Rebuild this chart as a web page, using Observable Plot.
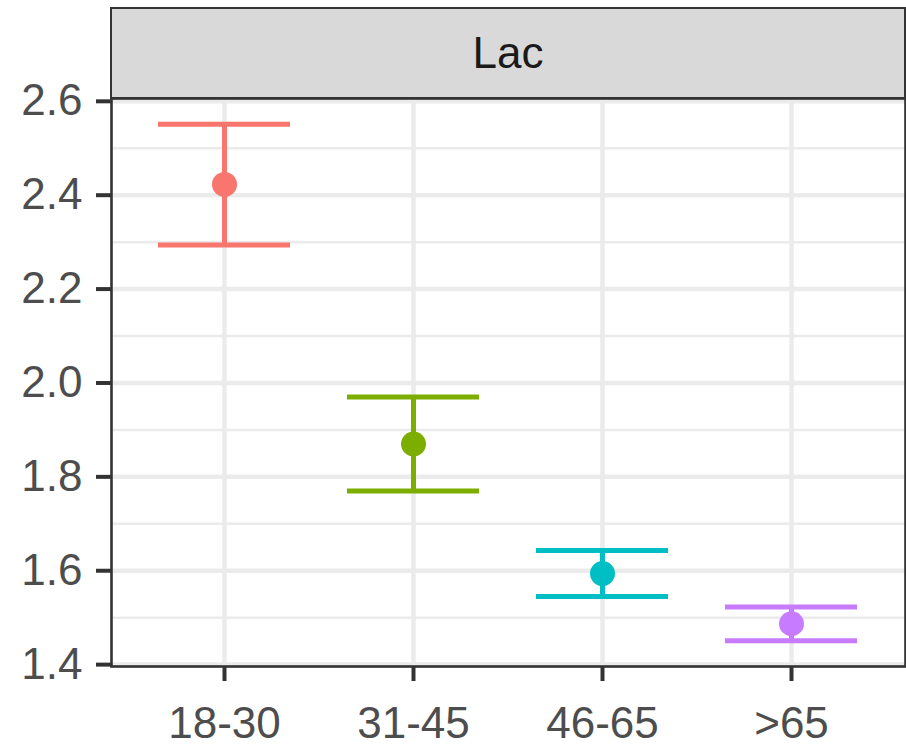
<!DOCTYPE html>
<html>
<head>
<meta charset="utf-8">
<script src="https://cdn.jsdelivr.net/npm/d3@7"></script>
<script src="https://cdn.jsdelivr.net/npm/@observablehq/plot@0.6"></script>
<style>
  html, body { margin: 0; padding: 0; background: #fff; }
  #wrap { position: relative; width: 906px; height: 746px; }
  #strip { position: absolute; left: 110px; top: 7px; width: 792px; height: 88px;
    background: #D9D9D9; border: 2.5px solid #333;
    font-family: "Liberation Sans", Arial, sans-serif; font-size: 44px; color: #1A1A1A;
    display: flex; align-items: center; justify-content: center; }
</style>
</head>
<body>
<div id="wrap"><div id="strip">Lac</div></div>
<script>
const panel = "Lac";
const groups = ["18-30", "31-45", "46-65", ">65"];
const means = [2.423, 1.870, 1.594, 1.487];
const lowers = [2.294, 1.770, 1.545, 1.451];
const uppers = [2.551, 1.970, 1.643, 1.523];
const colors = ["#F8766D", "#7CAE00", "#00BFC4", "#C77CFF"];
const majorTicks = [1.4, 1.6, 1.8, 2.0, 2.2, 2.4, 2.6];
const minorTicks = [1.5, 1.7, 1.9, 2.1, 2.3, 2.5];

const data = groups.map((g, i) => ({group: g, mean: means[i], lo: lowers[i], hi: uppers[i]}));

const chart = Plot.plot({
  width: 906,
  height: 746,
  marginLeft: 111,
  marginRight: 1,
  marginTop: 98,
  marginBottom: 80,
  style: {fontFamily: "Liberation Sans, Arial, sans-serif", fontSize: "44px", background: "transparent"},
  x: {type: "band", domain: groups, paddingInner: 0.3, paddingOuter: 0.25, label: null},
  y: {domain: [1.396, 2.606], label: null},
  color: {domain: groups, range: colors},
  marks: [
    Plot.ruleY(minorTicks, {stroke: "#EBEBEB", strokeWidth: 2.5}),
    Plot.ruleY(majorTicks, {stroke: "#EBEBEB", strokeWidth: 4.5}),
    Plot.gridX(groups, {stroke: "#EBEBEB", strokeOpacity: 1, strokeWidth: 4.5}),
    Plot.ruleX(data, {x: "group", y1: "lo", y2: "hi", stroke: "group", strokeWidth: 5}),
    Plot.tickY(data, {x: "group", y: "hi", stroke: "group", strokeWidth: 5}),
    Plot.tickY(data, {x: "group", y: "lo", stroke: "group", strokeWidth: 5}),
    Plot.dot(data, {x: "group", y: "mean", fill: "group", r: 12.5}),
    Plot.frame({stroke: "#333", strokeWidth: 2.6}),
    Plot.axisY(majorTicks, {tickSize: 15, tickPadding: 14, strokeWidth: 4, stroke: "#333", fill: "#4D4D4D",
      tickFormat: d => d.toFixed(1), fontSize: 44}),
    Plot.axisX({tickSize: 15, tickPadding: 25, strokeWidth: 4, stroke: "#333", fill: "#4D4D4D", fontSize: 44})
  ]
});
chart.style.position = "absolute";
chart.style.left = "0";
chart.style.top = "0";
const wrap = document.getElementById("wrap");
wrap.insertBefore(chart, wrap.firstChild);
</script>
</body>
</html>
